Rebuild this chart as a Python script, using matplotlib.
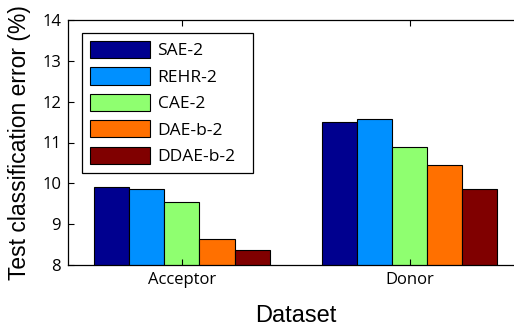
import numpy as np
import matplotlib
matplotlib.use("Agg")
import matplotlib.pyplot as plt

datasets = ["Acceptor", "Donor"]
methods = ["SAE-2", "REHR-2", "CAE-2", "DAE-b-2", "DDAE-b-2"]
acceptor = [9.92, 9.87, 9.55, 8.64, 8.36]
donor = [11.50, 11.58, 10.88, 10.44, 9.86]
colors = ["#00008F", "#0090FF", "#8FFF70", "#FF7000", "#800000"]

vals = np.array([acceptor, donor])
fig = plt.figure(figsize=(5.14, 3.31), dpi=100)
ax = fig.add_axes([68 / 514, 1 - 265 / 331, (523.75 - 68) / 514, (265 - 20) / 331])

n = len(methods)
gw = min(0.8, n / (n + 1.5))
bw = gw / n
x = np.arange(1, len(datasets) + 1)
for i, m in enumerate(methods):
    ax.bar(x - gw / 2 + bw * (i + 0.5), vals[:, i], width=bw, bottom=0,
           color=colors[i], edgecolor="black", linewidth=0.8, label=m)

ax.set_xlim(0.5, 2.5)
ax.set_ylim(8, 14)
ax.set_xticks(x)
ax.set_xticklabels(datasets, fontsize=12, family="Open Sans")
ax.set_yticks(range(8, 15))
ax.set_yticklabels([str(v) for v in range(8, 15)], fontsize=12, family="Open Sans")
ax.tick_params(direction="in", top=True, right=True, length=4, width=0.8, pad=5)
for s in ax.spines.values():
    s.set_linewidth(0.9)

ax.set_xlabel("Dataset", fontsize=17, family="Liberation Sans", labelpad=12)
ax.set_ylabel("Test classification error (%)", fontsize=16.5, family="Liberation Sans", labelpad=8)

ax_w = 523.75 - 68
leg = ax.legend(loc="upper left",
                bbox_to_anchor=((82 - 68) / ax_w, 1 - 13 / 245, 171 / ax_w, 0),
                mode="expand", borderaxespad=0, fancybox=False, framealpha=1,
                edgecolor="black", borderpad=0.45, handlelength=3.45, handleheight=1.15,
                labelspacing=0.46, handletextpad=0.45,
                prop={"family": "Open Sans", "size": 12.5})
leg.get_frame().set_linewidth(0.9)

fig.savefig("out.png", dpi=100)
